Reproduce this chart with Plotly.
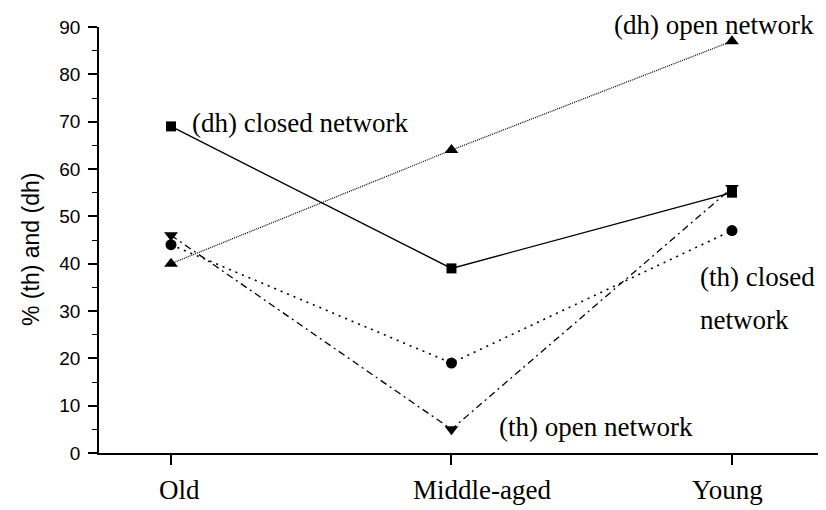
import plotly.graph_objects as go

categories = ["Old", "Middle-aged", "Young"]
dh_closed = [69, 39, 55]
dh_open = [40, 64, 87]
th_closed = [44, 19, 47]
th_open = [46, 5, 56]
y_ticks = [0, 10, 20, 30, 40, 50, 60, 70, 80, 90]

xpos = list(range(len(categories)))

fig = go.Figure()

def add(series, symbol, dash, size, width=1.3):
    fig.add_trace(go.Scatter(
        x=xpos, y=series, mode="lines+markers",
        line=dict(color="black", width=width, dash=dash),
        marker=dict(symbol=symbol, size=size, color="black"),
        cliponaxis=False, showlegend=False))

add(dh_closed, "square", "solid", 10, 1.4)
add(dh_open, "triangle-up", "1px,1px", 12, 1.2)
add(th_closed, "circle", "2px,5px", 11, 1.6)
add(th_open, "triangle-down", "7px,4px,2px,4px", 12, 1.3)

serif = "Liberation Serif, Times New Roman, serif"
sans = "Liberation Sans, Arial, sans-serif"
FS = 27

def ann(text, x, y, anchor="left", yref="y", yanchor="middle", xshift=0):
    fig.add_annotation(x=x, y=y, xref="x", yref=yref, text=text, showarrow=False,
                       xanchor=anchor, yanchor=yanchor, xshift=xshift,
                       font=dict(family=serif, size=FS, color="black"))

ann("(dh) closed network", 0.068, 69.7)
ann("(dh) open network", 1.572, 1 + 19 / 426, yref="paper", yanchor="top")
ann("(th) closed", 1.879, 37.2)
ann("network", 1.879, 28.0)
ann("(th) open network", 1.162, 5.5)

# category labels under the ticks (offsets as printed in the original)
label_shift = [8, 31, -4]
for xi, name, sh in zip(xpos, categories, label_shift):
    ann(name, xi, -37 / 426, anchor="center", yref="paper", xshift=sh)

fig.add_annotation(x=-0.094, y=42.9, xref="paper", yref="y", text="% (th) and (dh)",
                   textangle=-90, showarrow=False, xanchor="center", yanchor="middle",
                   font=dict(family=sans, size=23, color="black"))

# page body adds an 8px offset; margins compensate for it
fig.update_layout(
    width=826, height=510,
    margin=dict(l=91, r=12, t=19, b=65, autoexpand=False),
    plot_bgcolor="white", paper_bgcolor="white",
    xaxis=dict(range=[-0.2567, 2.321], tickvals=xpos, ticktext=categories,
               showticklabels=False, automargin=False,
               showgrid=False, zeroline=False, showline=True, linecolor="black",
               linewidth=1.5, ticks="outside", ticklen=10, tickwidth=1.5,
               tickcolor="black"),
    yaxis=dict(range=[0, 90], tickvals=y_ticks, showgrid=False, zeroline=False,
               automargin=False,
               showline=True, linecolor="black", linewidth=1.5, ticks="outside",
               ticklen=9, tickwidth=1.5, tickcolor="black", ticklabelstandoff=4,
               minor=dict(dtick=5, ticks="outside", ticklen=5, tickwidth=1.2,
                          tickcolor="black", showgrid=False),
               tickfont=dict(family=sans, size=19, color="black")),
)

fig.write_html("out.html")
